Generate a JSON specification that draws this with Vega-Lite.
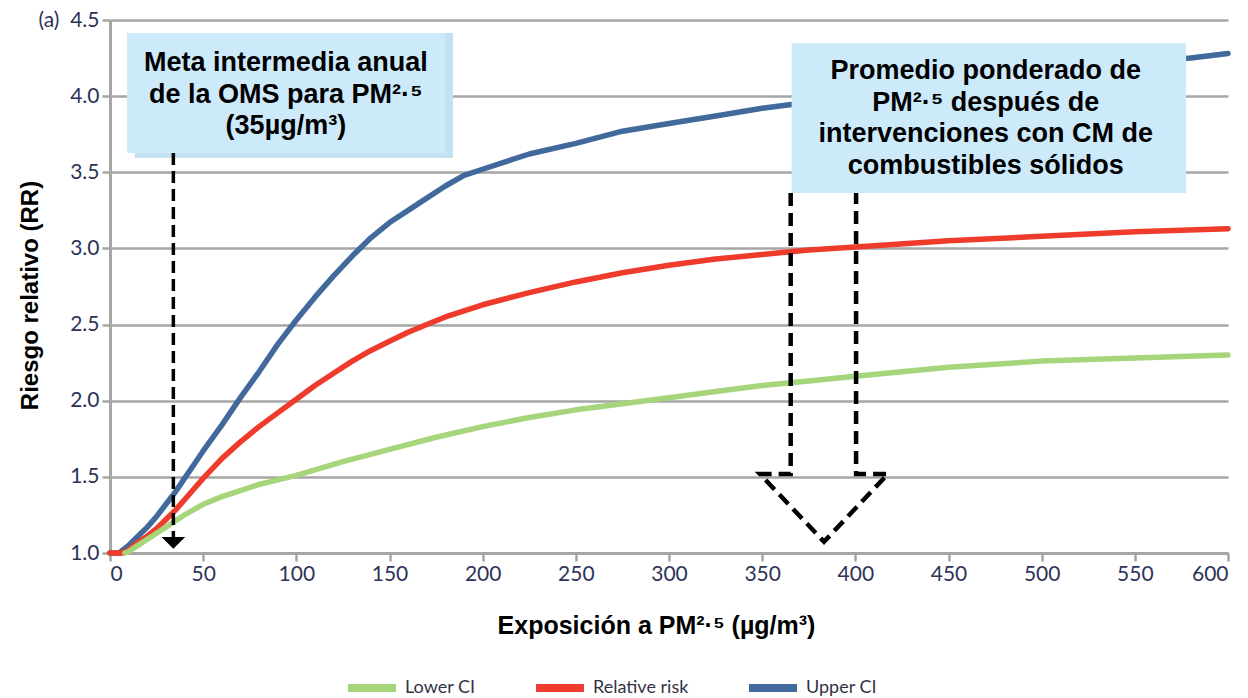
{
  "$schema": "https://vega.github.io/schema/vega-lite/v6.json",
  "width": 1118,
  "height": 533,
  "autosize": {"type": "none"},
  "padding": {"left": 110, "top": 20, "right": 20, "bottom": 145},
  "background": "white",
  "config": {
    "view": {"stroke": null},
    "axis": {
      "labelFont": "Lato",
      "labelFontSize": 21,
      "labelColor": "#2d3358",
      "tickColor": "#a6a6a6",
      "tickWidth": 2.5,
      "tickSize": 8,
      "domainColor": "#a6a6a6",
      "domainWidth": 3,
      "gridColor": "#a6a6a6",
      "gridWidth": 2.5,
      "titleFont": "Liberation Sans",
      "titleFontWeight": "bold",
      "titleFontSize": 24,
      "titleColor": "#000000"
    },
    "legend": {
      "labelFont": "Lato",
      "labelFontSize": 18,
      "labelColor": "#333344"
    }
  },
  "layer": [
    {
      "data": {
        "values": [
          {"series": "Upper CI", "x": 0, "y": 1.0},
          {"series": "Upper CI", "x": 5, "y": 1.0},
          {"series": "Upper CI", "x": 10, "y": 1.05},
          {"series": "Upper CI", "x": 15, "y": 1.11},
          {"series": "Upper CI", "x": 20, "y": 1.17},
          {"series": "Upper CI", "x": 25, "y": 1.24},
          {"series": "Upper CI", "x": 30, "y": 1.32},
          {"series": "Upper CI", "x": 35, "y": 1.40},
          {"series": "Upper CI", "x": 40, "y": 1.49},
          {"series": "Upper CI", "x": 45, "y": 1.58},
          {"series": "Upper CI", "x": 50, "y": 1.67},
          {"series": "Upper CI", "x": 60, "y": 1.84},
          {"series": "Upper CI", "x": 70, "y": 2.02},
          {"series": "Upper CI", "x": 80, "y": 2.19},
          {"series": "Upper CI", "x": 90, "y": 2.37},
          {"series": "Upper CI", "x": 100, "y": 2.53},
          {"series": "Upper CI", "x": 110, "y": 2.68},
          {"series": "Upper CI", "x": 120, "y": 2.82},
          {"series": "Upper CI", "x": 130, "y": 2.95},
          {"series": "Upper CI", "x": 140, "y": 3.07},
          {"series": "Upper CI", "x": 150, "y": 3.17},
          {"series": "Upper CI", "x": 160, "y": 3.25},
          {"series": "Upper CI", "x": 170, "y": 3.33},
          {"series": "Upper CI", "x": 180, "y": 3.41},
          {"series": "Upper CI", "x": 190, "y": 3.48},
          {"series": "Upper CI", "x": 200, "y": 3.52},
          {"series": "Upper CI", "x": 210, "y": 3.56},
          {"series": "Upper CI", "x": 225, "y": 3.62},
          {"series": "Upper CI", "x": 250, "y": 3.69},
          {"series": "Upper CI", "x": 275, "y": 3.77},
          {"series": "Upper CI", "x": 300, "y": 3.82},
          {"series": "Upper CI", "x": 325, "y": 3.87},
          {"series": "Upper CI", "x": 350, "y": 3.92},
          {"series": "Upper CI", "x": 375, "y": 3.96},
          {"series": "Upper CI", "x": 400, "y": 4.00},
          {"series": "Upper CI", "x": 450, "y": 4.08},
          {"series": "Upper CI", "x": 500, "y": 4.16},
          {"series": "Upper CI", "x": 550, "y": 4.22},
          {"series": "Upper CI", "x": 580, "y": 4.25},
          {"series": "Upper CI", "x": 600, "y": 4.28},
          {"series": "Relative risk", "x": 0, "y": 1.0},
          {"series": "Relative risk", "x": 7, "y": 1.0},
          {"series": "Relative risk", "x": 10, "y": 1.02},
          {"series": "Relative risk", "x": 15, "y": 1.07},
          {"series": "Relative risk", "x": 20, "y": 1.11},
          {"series": "Relative risk", "x": 25, "y": 1.16},
          {"series": "Relative risk", "x": 30, "y": 1.22},
          {"series": "Relative risk", "x": 35, "y": 1.28},
          {"series": "Relative risk", "x": 40, "y": 1.35},
          {"series": "Relative risk", "x": 45, "y": 1.42},
          {"series": "Relative risk", "x": 50, "y": 1.49},
          {"series": "Relative risk", "x": 60, "y": 1.62},
          {"series": "Relative risk", "x": 70, "y": 1.73},
          {"series": "Relative risk", "x": 80, "y": 1.83},
          {"series": "Relative risk", "x": 90, "y": 1.92},
          {"series": "Relative risk", "x": 100, "y": 2.01},
          {"series": "Relative risk", "x": 110, "y": 2.10},
          {"series": "Relative risk", "x": 120, "y": 2.18},
          {"series": "Relative risk", "x": 130, "y": 2.26},
          {"series": "Relative risk", "x": 140, "y": 2.33},
          {"series": "Relative risk", "x": 150, "y": 2.39},
          {"series": "Relative risk", "x": 160, "y": 2.45},
          {"series": "Relative risk", "x": 170, "y": 2.50},
          {"series": "Relative risk", "x": 180, "y": 2.55},
          {"series": "Relative risk", "x": 190, "y": 2.59},
          {"series": "Relative risk", "x": 200, "y": 2.63},
          {"series": "Relative risk", "x": 225, "y": 2.71},
          {"series": "Relative risk", "x": 250, "y": 2.78},
          {"series": "Relative risk", "x": 275, "y": 2.84},
          {"series": "Relative risk", "x": 300, "y": 2.89},
          {"series": "Relative risk", "x": 325, "y": 2.93},
          {"series": "Relative risk", "x": 350, "y": 2.96},
          {"series": "Relative risk", "x": 375, "y": 2.99},
          {"series": "Relative risk", "x": 400, "y": 3.01},
          {"series": "Relative risk", "x": 450, "y": 3.05},
          {"series": "Relative risk", "x": 500, "y": 3.08},
          {"series": "Relative risk", "x": 550, "y": 3.11},
          {"series": "Relative risk", "x": 600, "y": 3.13},
          {"series": "Lower CI", "x": 8, "y": 1.0},
          {"series": "Lower CI", "x": 10, "y": 1.01},
          {"series": "Lower CI", "x": 15, "y": 1.05},
          {"series": "Lower CI", "x": 20, "y": 1.09},
          {"series": "Lower CI", "x": 25, "y": 1.13},
          {"series": "Lower CI", "x": 30, "y": 1.17},
          {"series": "Lower CI", "x": 35, "y": 1.21},
          {"series": "Lower CI", "x": 40, "y": 1.25},
          {"series": "Lower CI", "x": 50, "y": 1.32},
          {"series": "Lower CI", "x": 60, "y": 1.37},
          {"series": "Lower CI", "x": 70, "y": 1.41},
          {"series": "Lower CI", "x": 80, "y": 1.45},
          {"series": "Lower CI", "x": 90, "y": 1.48},
          {"series": "Lower CI", "x": 100, "y": 1.51},
          {"series": "Lower CI", "x": 125, "y": 1.60},
          {"series": "Lower CI", "x": 150, "y": 1.68},
          {"series": "Lower CI", "x": 175, "y": 1.76},
          {"series": "Lower CI", "x": 200, "y": 1.83},
          {"series": "Lower CI", "x": 225, "y": 1.89},
          {"series": "Lower CI", "x": 250, "y": 1.94},
          {"series": "Lower CI", "x": 275, "y": 1.98},
          {"series": "Lower CI", "x": 300, "y": 2.02},
          {"series": "Lower CI", "x": 325, "y": 2.06},
          {"series": "Lower CI", "x": 350, "y": 2.10},
          {"series": "Lower CI", "x": 375, "y": 2.13},
          {"series": "Lower CI", "x": 400, "y": 2.16},
          {"series": "Lower CI", "x": 425, "y": 2.19},
          {"series": "Lower CI", "x": 450, "y": 2.22},
          {"series": "Lower CI", "x": 475, "y": 2.24},
          {"series": "Lower CI", "x": 500, "y": 2.26},
          {"series": "Lower CI", "x": 550, "y": 2.28},
          {"series": "Lower CI", "x": 600, "y": 2.30}
        ]
      },
      "mark": {"type": "line", "strokeWidth": 5.5, "strokeCap": "round", "strokeJoin": "round"},
      "encoding": {
        "x": {
          "field": "x",
          "type": "quantitative",
          "scale": {"domain": [0, 600], "nice": false},
          "axis": {
            "title": "Exposición a PM²·⁵ (µg/m³)",
            "titleFontSize": 25,
            "values": [0, 50, 100, 150, 200, 250, 300, 350, 400, 450, 500, 550, 600],
            "grid": false,
            "labelPadding": 2,
            "titleX": 546,
            "titleY": 72,
            "titleBaseline": "middle"
          }
        },
        "y": {
          "field": "y",
          "type": "quantitative",
          "scale": {"domain": [1, 4.5], "nice": false},
          "axis": {
            "title": "Riesgo relativo (RR)",
            "titleFontSize": 24,
            "values": [1, 1.5, 2, 2.5, 3, 3.5, 4, 4.5],
            "format": ".1f",
            "labelExpr": "datum.value == 4.5 ? '(a)\u00a0\u00a04.5' : datum.label",
            "grid": true,
            "labelPadding": 3,
            "titleX": -80,
            "titleY": 275,
            "titleBaseline": "middle",
            "titleAngle": -90
          }
        },
        "color": {
          "field": "series",
          "type": "nominal",
          "scale": {
            "domain": ["Lower CI", "Relative risk", "Upper CI"],
            "range": ["#a6d57c", "#ee3b2b", "#41699b"]
          },
          "legend": {
            "title": null,
            "orient": "none",
            "direction": "horizontal",
            "legendX": 234,
            "legendY": 640,
            "symbolType": "stroke",
            "symbolSize": 2300,
            "symbolStrokeWidth": 8,
            "columnPadding": 44,
            "labelOffset": 5
          }
        }
      }
    },
    {
      "data": {
        "values": [
          {"box": "shadow1", "x": 13.3, "x2": 184.1, "y": 3.593, "y2": 4.414, "c": "#c3e2f1"},
          {"box": "box1", "x": 9.1, "x2": 179.8, "y": 3.626, "y2": 4.414, "c": "#cdeafb"},
          {"box": "box2", "x": 365.8, "x2": 577.5, "y": 3.364, "y2": 4.347, "c": "#cdeafb"}
        ]
      },
      "mark": {"type": "rect"},
      "encoding": {
        "x": {"field": "x", "type": "quantitative"},
        "x2": {"field": "x2"},
        "y": {"field": "y", "type": "quantitative"},
        "y2": {"field": "y2"},
        "fill": {"field": "c", "type": "nominal", "scale": null}
      }
    },
    {
      "data": {
        "values": [
          {"x": 94.4, "y": 4.217, "t": "Meta intermedia anual\nde la OMS para PM²·⁵\n(35µg/m³)"},
          {"x": 470, "y": 4.165, "t": "Promedio ponderado de\nPM²·⁵ después de\nintervenciones con CM de\ncombustibles sólidos"}
        ]
      },
      "mark": {
        "type": "text",
        "font": "Liberation Sans",
        "fontWeight": "bold",
        "fontSize": 27,
        "lineBreak": "\n",
        "lineHeight": 31.5,
        "align": "center",
        "baseline": "middle",
        "color": "#000000"
      },
      "encoding": {
        "x": {"field": "x", "type": "quantitative"},
        "y": {"field": "y", "type": "quantitative"},
        "text": {"field": "t", "type": "nominal"}
      }
    },
    {
      "data": {"values": [{"x": 34, "y": 3.626, "y2": 1.1}]},
      "mark": {"type": "rule", "strokeWidth": 3.5, "strokeDash": [12, 6], "color": "#000000"},
      "encoding": {
        "x": {"field": "x", "type": "quantitative"},
        "y": {"field": "y", "type": "quantitative"},
        "y2": {"field": "y2"}
      }
    },
    {
      "data": {"values": [{"x": 34, "y": 1.066}]},
      "mark": {
        "type": "point",
        "shape": "M-1,-0.5L1,-0.5L0,0.5Z",
        "size": 560,
        "filled": true,
        "opacity": 1,
        "color": "#000000",
        "strokeWidth": 0
      },
      "encoding": {
        "x": {"field": "x", "type": "quantitative"},
        "y": {"field": "y", "type": "quantitative"}
      }
    },
    {
      "data": {
        "values": [
          {"o": 1, "x": 365.3, "y": 3.364},
          {"o": 2, "x": 365.3, "y": 1.519},
          {"o": 3, "x": 348.8, "y": 1.519},
          {"o": 4, "x": 383.2, "y": 1.074},
          {"o": 5, "x": 417.5, "y": 1.519},
          {"o": 6, "x": 400.4, "y": 1.519},
          {"o": 7, "x": 400.4, "y": 3.364}
        ]
      },
      "mark": {"type": "line", "strokeWidth": 4.5, "strokeDash": [13, 7], "color": "#000000", "strokeJoin": "miter"},
      "encoding": {
        "x": {"field": "x", "type": "quantitative"},
        "y": {"field": "y", "type": "quantitative"},
        "order": {"field": "o", "type": "quantitative"}
      }
    }
  ]
}
